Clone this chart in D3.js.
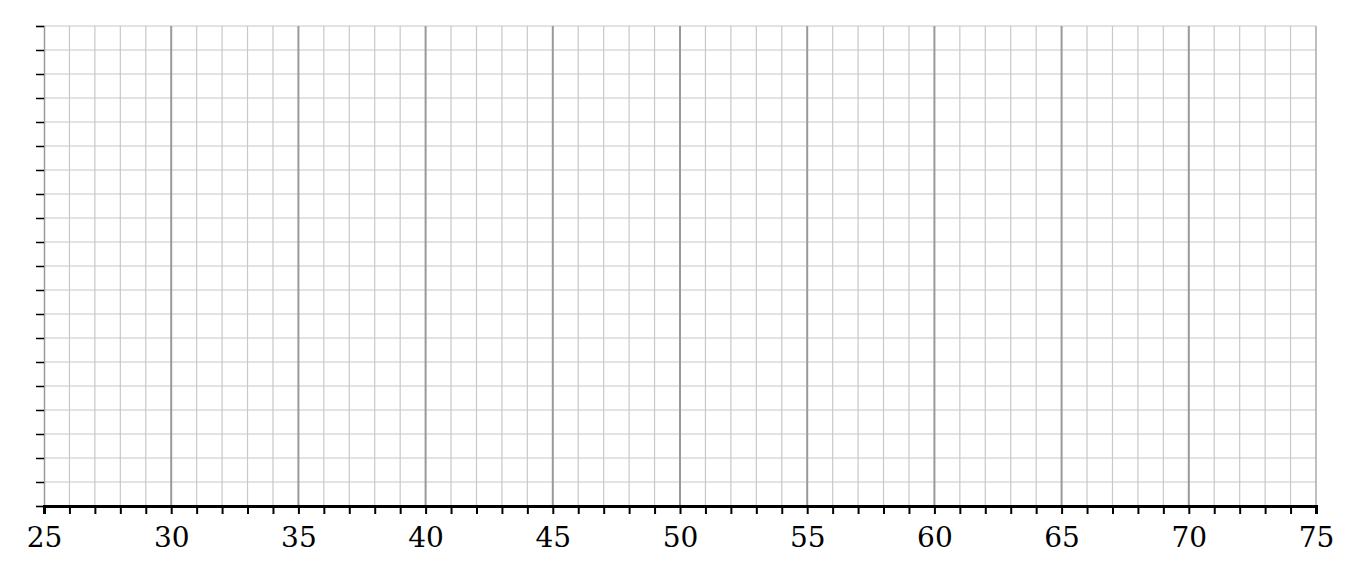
<!DOCTYPE html>
<html>
<head>
<meta charset="utf-8">
<script src="https://cdnjs.cloudflare.com/ajax/libs/d3/7.8.5/d3.min.js"></script>
<style>
  body { margin: 0; background: #fff; }
  svg { display: block; }
</style>
</head>
<body>
<div id="chart"></div>
<script>
// axis ranges
var xDomain = [25, 75];
var yDomain = [0, 20];
var xMajorTicks = [25, 30, 35, 40, 45, 50, 55, 60, 65, 70, 75];
var xMinorTicks = d3.range(25, 76, 1);
var yTicks = d3.range(0, 21, 1);

var width = 1360, height = 578;
var margin = { top: 26, right: 44, bottom: 72, left: 44 };

var svg = d3.select("#chart")
  .append("svg")
  .attr("width", width)
  .attr("height", height);

var x = d3.scaleLinear()
  .domain(xDomain)
  .range([margin.left, width - margin.right]);

var y = d3.scaleLinear()
  .domain(yDomain)
  .range([height - margin.bottom, margin.top]);

// minor grid
svg.append("g")
  .selectAll("line")
  .data(xMinorTicks.filter(function(d) { return d % 5 !== 0; }))
  .enter()
  .append("line")
  .attr("x1", function(d) { return x(d); })
  .attr("x2", function(d) { return x(d); })
  .attr("y1", y(yDomain[0]))
  .attr("y2", y(yDomain[1]))
  .attr("stroke", "#c8c8c8")
  .attr("stroke-width", 1.2);

svg.append("g")
  .selectAll("line")
  .data(yTicks)
  .enter()
  .append("line")
  .attr("x1", x(xDomain[0]))
  .attr("x2", x(xDomain[1]))
  .attr("y1", function(d) { return y(d); })
  .attr("y2", function(d) { return y(d); })
  .attr("stroke", "#c8c8c8")
  .attr("stroke-width", 1.2);

// major grid
svg.append("g")
  .selectAll("line")
  .data(xMajorTicks.slice(1))
  .enter()
  .append("line")
  .attr("x1", function(d) { return x(d); })
  .attr("x2", function(d) { return x(d); })
  .attr("y1", y(yDomain[0]))
  .attr("y2", y(yDomain[1]))
  .attr("stroke", function(d) { return d === 75 ? "#aaa" : "#999"; })
  .attr("stroke-width", function(d) { return d === 75 ? 1.5 : 2; });

// left axis
var yAxis = d3.axisLeft(y)
  .tickValues(yTicks)
  .tickSize(8)
  .tickFormat("");

var gy = svg.append("g")
  .attr("transform", "translate(" + margin.left + ",0)")
  .call(yAxis);
gy.select(".domain").attr("stroke", "#999").attr("stroke-width", 1.5);
gy.selectAll(".tick line").attr("stroke", "#000").attr("stroke-width", 1.5);

// bottom axis
var xAxis = d3.axisBottom(x)
  .tickValues(xMinorTicks)
  .tickSize(8)
  .tickPadding(13)
  .tickFormat(function(d) { return d % 5 === 0 ? d : ""; });

var gx = svg.append("g")
  .attr("transform", "translate(0," + (height - margin.bottom) + ")")
  .call(xAxis);
gx.select(".domain").attr("stroke", "#000").attr("stroke-width", 3);
gx.selectAll(".tick line").attr("stroke", "#000").attr("stroke-width", 2);
gx.selectAll(".tick text")
  .attr("fill", "#000")
  .style("font-family", "'DejaVu Serif', serif")
  .style("font-size", "28px");
</script>
</body>
</html>
